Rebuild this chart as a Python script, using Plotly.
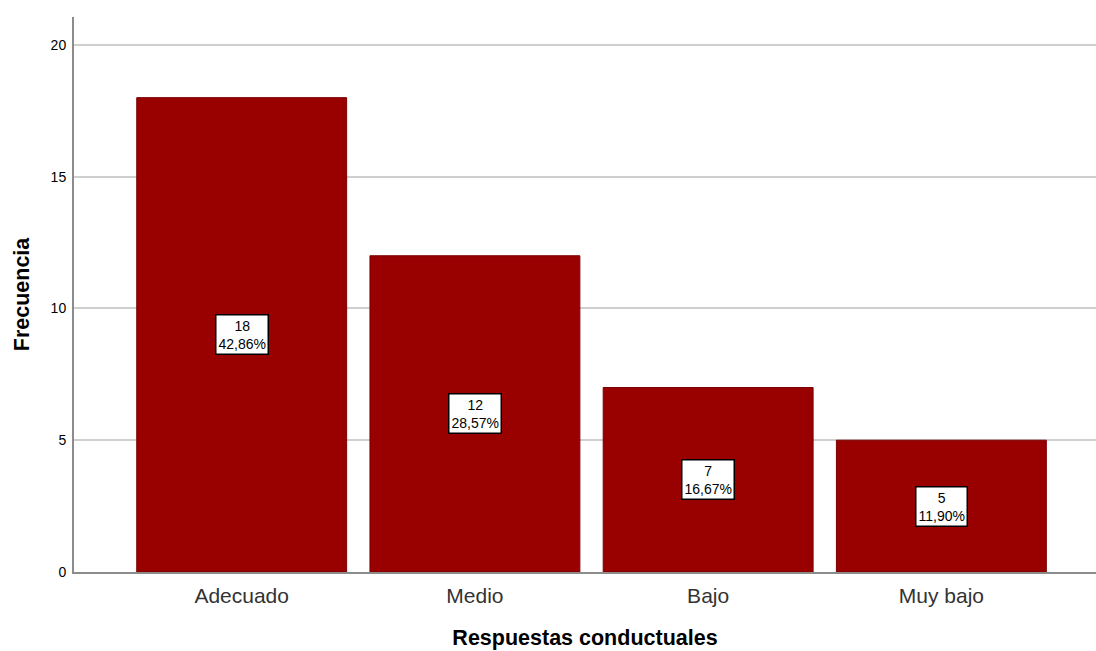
import plotly.graph_objects as go

categories = ["Adecuado", "Medio", "Bajo", "Muy bajo"]
counts = [18, 12, 7, 5]
y_ticks = [0, 5, 10, 15, 20]

total = sum(counts)
labels = [f"{c}<br>{(c / total * 100):.2f}%".replace(".", ",") for c in counts]

fig = go.Figure()
fig.add_trace(go.Bar(
    x=categories, y=counts,
    marker=dict(color="#990000", line=dict(color="#7a0000", width=1)),
    width=0.9,
    hoverinfo="skip",
))

for cat, c, lab in zip(categories, counts, labels):
    fig.add_annotation(
        x=cat, y=c / 2, text=lab, showarrow=False,
        font=dict(family="Arial, Liberation Sans", size=14, color="black"),
        bgcolor="white", bordercolor="black", borderwidth=1.5, borderpad=2,
        align="center",
    )

fig.update_layout(
    width=1096, height=651,
    margin=dict(l=74, r=0, t=17, b=79),
    paper_bgcolor="white", plot_bgcolor="white",
    showlegend=False,
    font=dict(family="Arial, Liberation Sans", color="black"),
    xaxis=dict(
        range=[-0.719, 3.663],
        showline=True, linecolor="#8c8c8c", linewidth=2,
        ticks="", tickfont=dict(size=21, color="#333333"),
        ticklabelstandoff=4,
        title=dict(text="<b>Respuestas conductuales</b>", font=dict(size=21.5, color="black"), standoff=24),
    ),
    yaxis=dict(
        range=[0, 21.06],
        tickvals=y_ticks,
        showline=True, linecolor="#8c8c8c", linewidth=2,
        showgrid=True, gridcolor="#cfcfcf", gridwidth=1.5,
        zeroline=False,
        ticks="", tickfont=dict(size=14, color="black"),
        ticklabelstandoff=3,
        title=dict(text="<b>Frecuencia</b>", font=dict(size=21.5, color="black"), standoff=15),
    ),
)

fig.write_html("out.html")
